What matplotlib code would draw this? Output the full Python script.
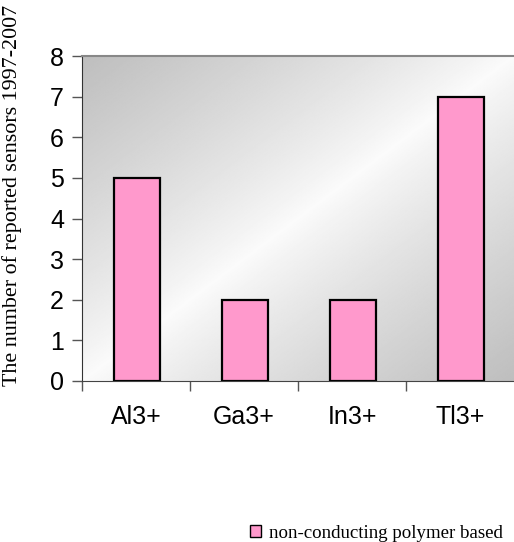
import numpy as np
import matplotlib.pyplot as plt
from matplotlib.patches import Patch

ions = ['Al3+', 'Ga3+', 'In3+', 'Tl3+']
sensor_counts = [5, 2, 2, 7]
series_label = 'non-conducting polymer based'

fig = plt.figure(figsize=(5.14, 5.42), dpi=100)
ax = fig.add_axes([82 / 514, 1 - 381 / 542, 432 / 514, 325 / 542])

# diagonal gradient: grey at top-left / bottom-right, white along the other diagonal
u, v = np.meshgrid(np.linspace(0, 1, 300), np.linspace(1, 0, 300))
shade = np.abs(u - v)
grad = 0.985 - 0.24 * shade ** 0.85
ax.imshow(grad, cmap='gray', vmin=0, vmax=1, extent=[0, 1, 0, 1],
          transform=ax.transAxes, aspect='auto', zorder=0, interpolation='bilinear')

x = np.arange(len(ions))
ax.bar(x + 0.01, sensor_counts, width=0.42, color='#FF99CC', edgecolor='black',
       linewidth=1.6, zorder=2)

ax.set_xlim(-0.5, 3.5)
ax.set_ylim(0, 8)
ax.set_yticks(range(9))
ax.set_xticks(x)
ax.set_xticklabels(ions)
ax.set_xticks([-0.5, 0.5, 1.5, 2.5], minor=True)
ax.tick_params(axis='x', which='major', length=0, pad=17, labelsize=18)
ax.tick_params(axis='x', which='minor', length=7, width=1, color='#555555')
ax.tick_params(axis='y', length=7, width=1, color='#555555', labelsize=18, pad=6)
for lbl in ax.get_xticklabels() + ax.get_yticklabels():
    lbl.set_family('Liberation Sans')

ax.spines['left'].set_color('#333333')
ax.spines['bottom'].set_color('#444444')
ax.spines['top'].set_color('#888888')
ax.spines['top'].set_linewidth(1.5)
ax.spines['right'].set_visible(False)

fig.text(12 / 514, 1 - 195 / 542, 'The number of reported sensors 1997-2007',
         rotation=90, ha='center', va='center', family='Liberation Serif', fontsize=15.8)

handle = Patch(facecolor='#FF99CC', edgecolor='black', linewidth=1)
fig.legend([handle], [series_label], loc='center left',
           bbox_to_anchor=(233 / 514, 1 - 533 / 542), frameon=False,
           handlelength=0.6, handleheight=0.6, handletextpad=0.4,
           prop={'family': 'Liberation Serif', 'size': 13.6})

fig.savefig('out.png', dpi=100)
